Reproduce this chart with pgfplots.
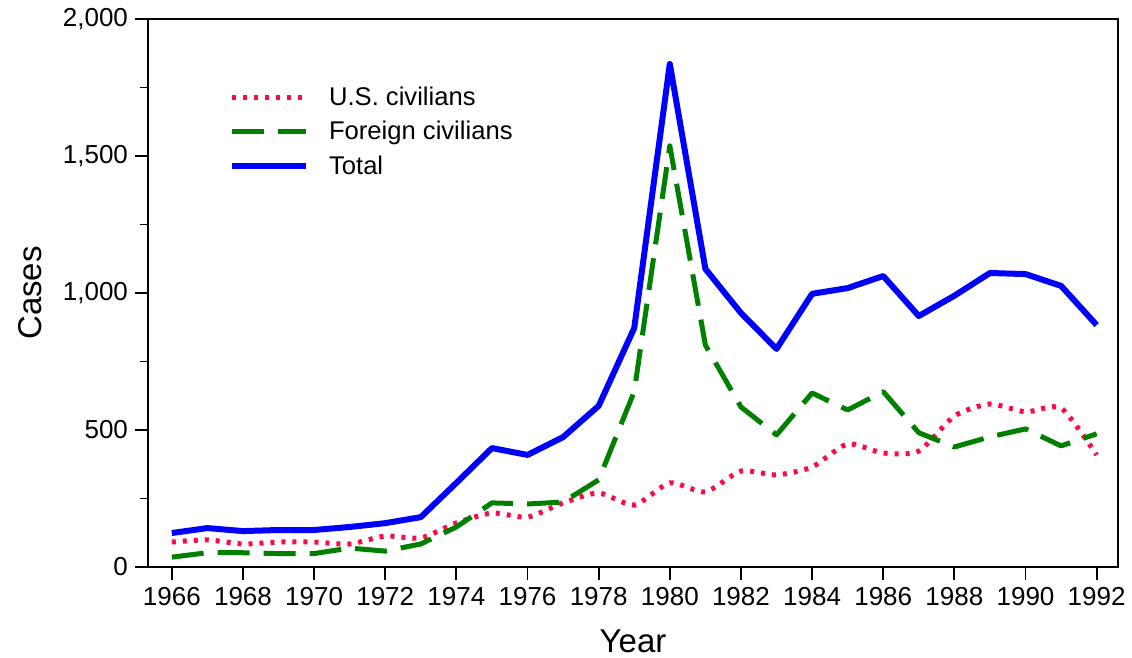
\documentclass[border=0pt]{standalone}
\usepackage{pgfplots}
\pgfplotsset{compat=1.18}
\usepackage{fontspec}
\setmainfont{Liberation Sans}
\definecolor{usred}{HTML}{FF0A46}
\definecolor{fgreen}{HTML}{007F00}
\definecolor{tblue}{HTML}{0000FF}
\begin{document}
\begin{tikzpicture}
\path[use as bounding box] (0,0) rectangle (566pt,329pt);
\begin{axis}[
  at={(74pt,45.5pt)}, anchor=south west,
  scale only axis, width=485pt, height=274pt,
  xmin=1965.33, xmax=1992.6, ymin=0, ymax=2000,
  xtick={1966,1968,...,1992},
  ytick={0,500,1000,1500,2000},
  minor y tick num=1,
  tick align=outside, tick pos=left,
  major tick length=6.5pt, minor tick length=4pt,
  every tick/.style={black, line width=0.9pt},
  axis line style={line width=1.2pt},
  /pgf/number format/assume math mode=true,
  x tick label style={/pgf/number format/1000 sep={}, font=\fontsize{13}{15}\selectfont},
  y tick label style={/pgf/number format/1000 sep={,}, font=\fontsize{13}{15}\selectfont},
  xlabel={Year}, ylabel={Cases},
  label style={font=\fontsize{16.5}{19}\selectfont},
  xlabel style={at={(axis description cs:0.5,0)}, anchor=center, yshift=-37pt},
  ylabel style={at={(axis description cs:0,0.5)}, anchor=center, xshift=0pt, yshift=59pt},
  legend style={at={(0.077,0.892)}, anchor=north west, draw=none, fill=none,
    font=\fontsize{12.8}{15}\selectfont, row sep=2.5pt},
  legend cell align=left,
  legend image code/.code={\draw[#1] (0pt,0pt) -- (37pt,0pt); \path (45pt,0pt);},
]
\addplot[usred, line width=2.5pt, dash pattern=on 2pt off 3.5pt, smooth, tension=0.4] coordinates {
(1966,91) (1967,99) (1968,84) (1969,91) (1970,91) (1971,84) (1972,113) (1973,106)
(1974,161) (1975,197) (1976,182) (1977,234) (1978,270) (1979,226) (1980,307)
(1981,274) (1982,350) (1983,336) (1984,365) (1985,449) (1986,416) (1987,423)
(1988,551) (1989,595) (1990,566) (1991,580) (1992,409)};
\addlegendentry{U.S. civilians}
\addplot[fgreen, line width=2.5pt, dash pattern=on 16pt off 7pt, line join=round] coordinates {
(1966,36) (1967,52) (1968,52) (1969,49) (1970,49) (1971,69) (1972,58) (1973,84)
(1974,146) (1975,234) (1976,230) (1977,237) (1978,318) (1979,640) (1980,1537)
(1981,810) (1982,584) (1983,482) (1984,635) (1985,573) (1986,640) (1987,490)
(1988,438) (1989,475) (1990,504) (1991,442) (1992,486)};
\addlegendentry{Foreign civilians}
\addplot[tblue, line width=3pt, line join=round] coordinates {
(1966,124) (1967,142) (1968,131) (1969,135) (1970,135) (1971,146) (1972,160) (1973,182)
(1974,307) (1975,434) (1976,409) (1977,474) (1978,588) (1979,872) (1980,1836)
(1981,1088) (1982,927) (1983,796) (1984,997) (1985,1018) (1986,1062) (1987,916)
(1988,990) (1989,1073) (1990,1069) (1991,1026) (1992,883)};
\addlegendentry{Total}
\end{axis}
\end{tikzpicture}
\end{document}
